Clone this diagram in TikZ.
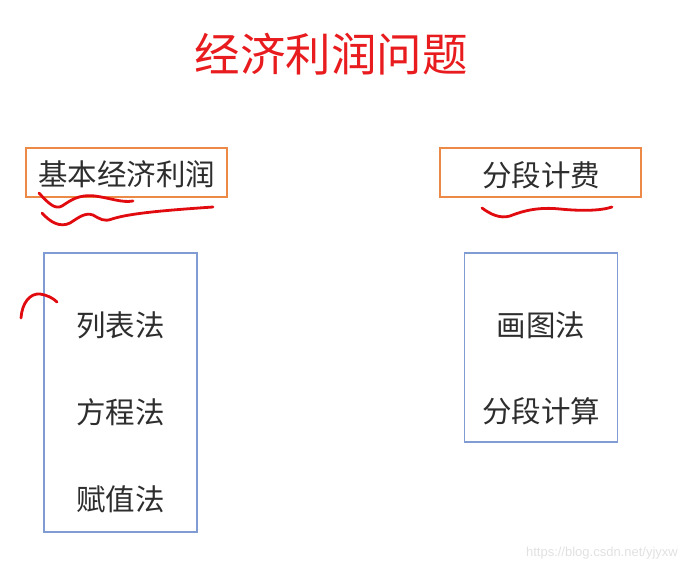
\documentclass[tikz,border=0pt]{standalone}
\usepackage{fontspec}
\newfontfamily\cjk{Noto Sans CJK SC}
\setsansfont{Liberation Sans}
\definecolor{titlered}{RGB}{232,28,30}
\definecolor{boxorange}{RGB}{237,137,70}
\definecolor{boxblue}{RGB}{128,156,210}
\definecolor{txtgray}{RGB}{45,45,45}
\definecolor{inkred}{RGB}{225,10,15}
\definecolor{wm}{RGB}{225,225,225}
\begin{document}
\begin{tikzpicture}[x=1pt,y=-1pt,
  topbox/.style={draw=boxorange,line width=1.8pt,minimum width=201pt,minimum height=49pt,inner sep=0pt},
  listbox/.style={draw=boxblue,line width=1.8pt,minimum width=153pt,inner sep=0pt},
  lbl/.style={font=\cjk\fontsize{29.5}{29.5}\selectfont,text=txtgray,inner sep=0pt},
  ink/.style={draw=inkred,line width=2.8pt,line cap=round,line join=round}]
\useasboundingbox (0,0) rectangle (688,570);
\node[font=\cjk\fontsize{45.5}{45.5}\selectfont,text=titlered,inner sep=0pt] (title) at (331,54) {经济利润问题};
% top boxes
\node[topbox] (b1) at (126.5,172.5) {};
\node[lbl] (t1) at (126.5,174) {基本经济利润};
\node[topbox] (b2) at (540.5,172.5) {};
\node[lbl] (t2) at (541,175) {分段计费};
% list boxes
\node[listbox,minimum height=279pt] (l1) at (120.5,392.5) {};
\node[lbl] (l1a) at (120.5,325) {列表法};
\node[lbl] (l1b) at (120.5,412) {方程法};
\node[lbl] (l1c) at (120.5,499) {赋值法};
\node[listbox,minimum height=189pt] (l2) at (541,347.5) {};
\node[lbl] (l2a) at (541,325) {画图法};
\node[lbl] (l2b) at (541,411) {分段计算};
% red ink
\draw[ink] (39,193) .. controls (48,203) and (55,210) .. (62,206)
  .. controls (70,201) and (78,194) .. (95,196) .. controls (110,198) and (122,203) .. (133,201);
\draw[ink] (42,213) .. controls (50,222) and (60,228) .. (70,223)
  .. controls (78,218) and (85,212) .. (93,215) .. controls (100,219) and (104,222) .. (112,219)
  .. controls (130,213) and (170,210) .. (213,207);
\draw[ink] (21,318) .. controls (22,303) and (30,293) .. (40,294) .. controls (47,295) and (53,298) .. (57,302);
\draw[ink] (482,208) .. controls (490,214) and (500,219) .. (510,216)
  .. controls (525,210) and (540,207) .. (560,209) .. controls (580,211) and (600,211) .. (612,207);
% watermark
\node[font=\sffamily\fontsize{13}{13}\selectfont,text=wm,anchor=east,inner sep=0pt] (wmark) at (678,553) {https://blog.csdn.net/yjyxw};
\end{tikzpicture}
\end{document}
